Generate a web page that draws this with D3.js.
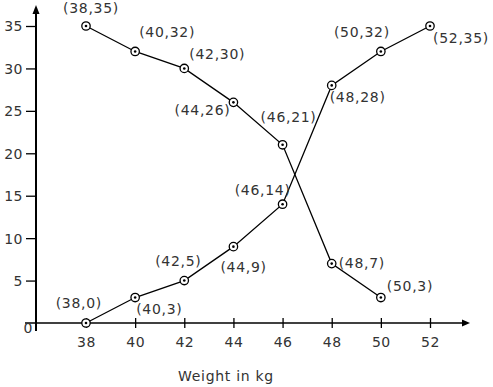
<!DOCTYPE html>
<html>
<head>
<meta charset="utf-8">
<script src="https://cdn.jsdelivr.net/npm/d3@7"></script>
<style>
  html, body { margin: 0; padding: 0; background: #fff; }
  svg { display: block; }
  text { font-family: "DejaVu Sans", Verdana, sans-serif; fill: #333; }
</style>
</head>
<body>
<svg id="chart" width="493" height="387"></svg>
<script>
// ---- data ----
const weights = [38, 40, 42, 44, 46, 48, 50, 52];
const lessThan = [0, 3, 5, 9, 14, 28, 32, 35];
const moreThanWeights = [38, 40, 42, 44, 46, 48, 50];
const moreThan = [35, 32, 30, 26, 21, 7, 3];
const xTicks = [38, 40, 42, 44, 46, 48, 50, 52];
const yTicks = [5, 10, 15, 20, 25, 30, 35];
const xTitle = "Weight in kg";

// ---- label layout (offsets from point, in px) ----
const lessLabelPos = [
  [16, -15, "end"], [1, 16, "start"], [-6, -15, "middle"], [-13, 25, "start"],
  [8, -9, "end"], [-2, 17, "start"], [9, -14, "end"], [3, 17, "start"]
];
const moreLabelPos = [
  [5, -13, "middle"], [4, -14, "start"], [5, -9, "start"], [-3, 13, "end"],
  [6, -23, "middle"], [7, 4, "start"], [6, -7, "start"]
];

const svg = d3.select("#chart");
const x = d3.scaleLinear().domain([38, 52]).range([86, 430]);
const y = d3.scaleLinear().domain([0, 35]).range([323, 26]);
const x0 = 36; // y-axis position
const y0 = y(0);

// axes lines with arrows
svg.append("line").attr("x1", 25).attr("x2", 466).attr("y1", y0).attr("y2", y0)
  .attr("stroke", "#000").attr("stroke-width", 1.6);
svg.append("path").attr("d", `M470,${y0} L462,${y0-3.5} L462,${y0+3.5} Z`).attr("fill", "#000");
svg.append("line").attr("x1", x0).attr("x2", x0).attr("y1", 331).attr("y2", 10)
  .attr("stroke", "#000").attr("stroke-width", 2);
svg.append("path").attr("d", `M${x0},5 L${x0-3.5},14 L${x0+3.5},14 Z`).attr("fill", "#000");

// x axis ticks
const xAxis = svg.append("g").attr("transform", `translate(0,${y0})`)
  .call(d3.axisBottom(x).tickValues(xTicks).tickSize(5).tickPadding(9).tickFormat(d3.format("d")));
xAxis.select(".domain").remove();
xAxis.selectAll(".tick line").attr("y1", -5).attr("y2", 5).attr("stroke", "#000").attr("stroke-width", 1.3);
xAxis.selectAll(".tick text").attr("font-size", 14).attr("fill", "#333")
  .attr("font-family", "DejaVu Sans, Verdana, sans-serif").attr("letter-spacing", 0.5);

// y axis ticks
const yAxis = svg.append("g").attr("transform", `translate(${x0},0)`)
  .call(d3.axisLeft(y).tickValues(yTicks).tickSize(10).tickPadding(3).tickFormat(d3.format("d")));
yAxis.select(".domain").remove();
yAxis.selectAll(".tick line").attr("stroke", "#000").attr("stroke-width", 1.3);
yAxis.selectAll(".tick text").attr("font-size", 14).attr("fill", "#333")
  .attr("font-family", "DejaVu Sans, Verdana, sans-serif").attr("letter-spacing", 0.5)
  .attr("dy", "0.35em");

// origin label
svg.append("text").attr("x", 28).attr("y", 333).attr("text-anchor", "middle")
  .attr("font-size", 14).text("0");

// axis title
svg.append("text").attr("x", 226).attr("y", 381).attr("text-anchor", "middle")
  .attr("font-size", 14).attr("letter-spacing", 0.7).text(xTitle);

const line = d3.line().x(d => x(d[0])).y(d => y(d[1]));

function drawSeries(xs, ys, labelPos) {
  const pts = xs.map((w, i) => [w, ys[i]]);
  svg.append("path").datum(pts).attr("d", line)
    .attr("fill", "none").attr("stroke", "#000").attr("stroke-width", 1.3);
  const g = svg.append("g");
  g.selectAll("circle.o").data(pts).join("circle")
    .attr("cx", d => x(d[0])).attr("cy", d => y(d[1])).attr("r", 4.2)
    .attr("fill", "#fff").attr("stroke", "#000").attr("stroke-width", 1.3);
  g.selectAll("circle.i").data(pts).join("circle")
    .attr("cx", d => x(d[0])).attr("cy", d => y(d[1])).attr("r", 1.3)
    .attr("fill", "#000");
  svg.append("g").selectAll("text").data(pts).join("text")
    .attr("x", (d, i) => x(d[0]) + labelPos[i][0])
    .attr("y", (d, i) => y(d[1]) + labelPos[i][1])
    .attr("text-anchor", (d, i) => labelPos[i][2])
    .attr("font-size", 14).attr("letter-spacing", 0.7)
    .text(d => `(${d[0]},${d[1]})`);
}

drawSeries(weights, lessThan, lessLabelPos);
drawSeries(moreThanWeights, moreThan, moreLabelPos);
</script>
</body>
</html>
